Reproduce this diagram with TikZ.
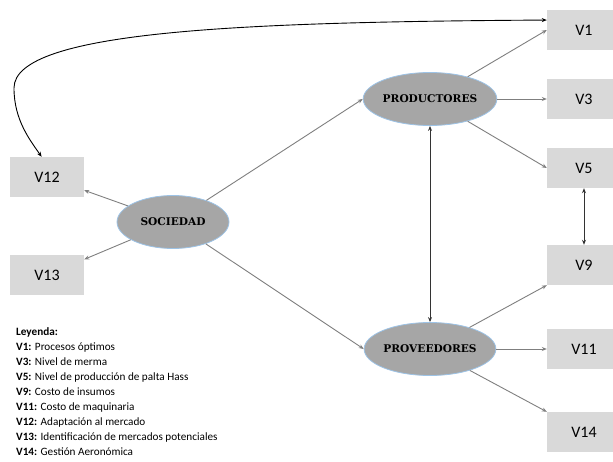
\documentclass[tikz,border=0pt]{standalone}
\usepackage{fontspec}
\setmainfont{Carlito}
\newfontfamily\factorfont{DejaVu Serif}
\usetikzlibrary{shapes.geometric,arrows.meta}
\definecolor{relleno}{HTML}{A6A6A6}
\definecolor{borde}{HTML}{9DC3E6}
\definecolor{caja}{HTML}{D9D9D9}
\definecolor{linea}{HTML}{7F7F7F}

\begin{document}
\begin{tikzpicture}
[x=1pt, y=-1pt,
    factor/.style={ellipse, draw=borde, fill=relleno, line width=0.8pt,
        minimum width=112pt, minimum height=53pt, inner sep=0pt,
        font=\factorfont\bfseries\fontsize{10.6}{12}\selectfont},
    var/.style={rectangle, fill=caja, minimum width=74pt, minimum height=40pt,
        inner sep=0pt, font=\fontsize{16}{19}\selectfont},
    link/.style={draw=linea, line width=0.9pt, -{Stealth[length=5pt,width=4pt]}},
    both/.style={draw=black!80, line width=0.9pt, {Stealth[length=5pt,width=4pt]}-{Stealth[length=5pt,width=4pt]}},
    leyenda/.style={align=left, inner sep=0pt, anchor=north west,
        font=\fontsize{11.2}{15}\selectfont}]
\useasboundingbox (0,0) rectangle (613,461);

% factores
\node [factor] (soc) at (173,222) {SOCIEDAD};
\node [factor] (prod) at (430,99) {PRODUCTORES};
\node [factor] (prov) at (430,349) {PROVEEDORES};

% variables
\node [var] (v1) at (584,30) {V1};
\node [var] (v3) at (584,99) {V3};
\node [var] (v5) at (584,168) {V5};
\node [var] (v9) at (584,265) {V9};
\node [var] (v11) at (584,349) {V11};
\node [var] (v14) at (584,432) {V14};
\node [var] (v12) at (47,177) {V12};
\node [var] (v13) at (47,275) {V13};

% relaciones
\draw [link] (soc) -- (v12);
\draw [link] (soc) -- (v13);
\draw [link] (soc) -- (prod.west);
\draw [link] (soc) -- (prov.west);
\draw [link] (prod) -- (v1.west);
\draw [link] (prod) -- (v3);
\draw [link] (prod) -- (v5.west);
\draw [link] (prov) -- (v9.south west);
\draw [link] (prov) -- (v11);
\draw [link] (prov) -- (v14.north west);
\draw [both] (prod) -- (prov);
\draw [both] (v5) -- (v9);
\draw [both, draw=black] (v1.165) .. controls (250,22) and (14,30) .. (14,88)
    .. controls (14,120) and (30,140) .. (v12.105);

% leyenda
\node [leyenda] (ley) at (16,327) {\textbf{Leyenda:}\\
    \textbf{V1:} Procesos óptimos\\
    \textbf{V3:} Nivel de merma\\
    \textbf{V5:} Nivel de producción de palta Hass\\
    \textbf{V9:} Costo de insumos\\
    \textbf{V11:} Costo de maquinaria\\
    \textbf{V12:} Adaptación al mercado\\
    \textbf{V13:} Identificación de mercados potenciales\\
    \textbf{V14:} Gestión Aeronómica};
\end{tikzpicture}
\end{document}
